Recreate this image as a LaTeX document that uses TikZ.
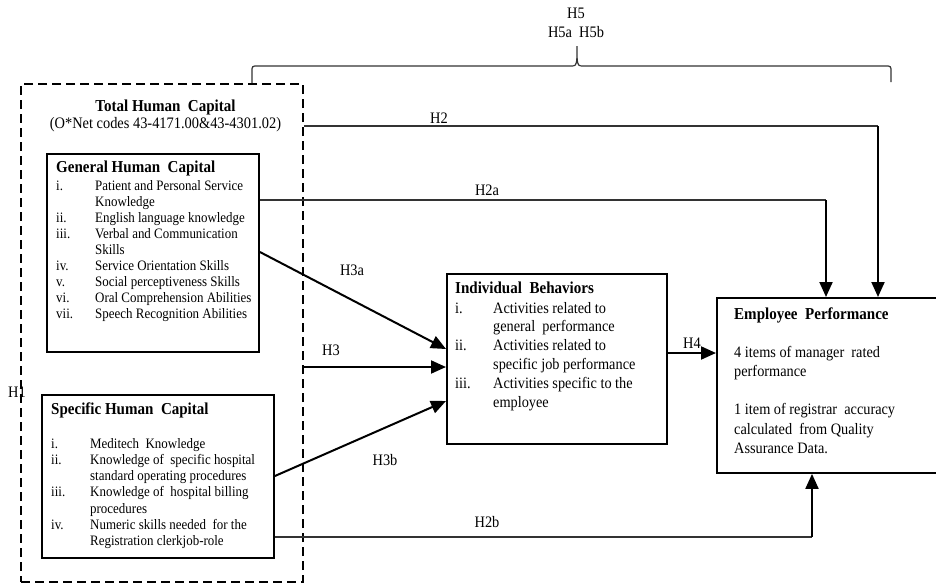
\documentclass[tikz,border=0pt]{standalone}
\usepackage{fontspec}
\setmainfont{Liberation Serif}[FakeStretch=0.9]
\usetikzlibrary{arrows.meta}
\begin{document}
\begin{tikzpicture}[x=1pt,y=-1pt,
  box/.style={draw=black, line width=1.9pt, rectangle, inner sep=0pt, anchor=north west},
  dashbox/.style={draw=black, line width=2pt, dash pattern=on 9pt off 5pt, rectangle, inner sep=0pt, anchor=north west},
  ttl/.style={font=\fontsize{16.7}{20}\selectfont\bfseries, anchor=base west, inner sep=0pt},
  lst/.style={anchor=base west, inner sep=0pt},
  lbl/.style={font=\fontsize{16}{19}\selectfont, anchor=base, inner sep=0pt},
  arr/.style={line width=2pt, draw=black, -{Triangle[length=15pt,width=13pt]}},
  thinln/.style={line width=1.2pt, draw=black!80},
  bracel/.style={line width=1.2pt, draw=black!80},
]
\useasboundingbox (0,0) rectangle (936,584);

% boxes
\node[dashbox, minimum width=282pt, minimum height=498pt] (dash) at (20,83) {};
\node[box, minimum width=212pt, minimum height=198pt] (ghc) at (46,153) {};
\node[box, minimum width=232pt, minimum height=163pt] (shc) at (41,394) {};
\node[box, minimum width=220pt, minimum height=170pt] (ib) at (446,273) {};
\node[box, minimum width=240pt, minimum height=175pt] (ep) at (716,297) {};

% Total human capital
\node[font=\fontsize{16.7}{20}\selectfont\bfseries, anchor=base, inner sep=0pt] (thct) at (165.5,111) {Total Human\ \ Capital};
\node[font=\fontsize{16}{19}\selectfont, anchor=base, inner sep=0pt] (thcs) at (165.5,128) {(O*Net codes 43-4171.00\&43-4301.02)};

% General human capital
\node[ttl] (ghct) at (56,172) {General Human\ \ Capital};
\node[lst, font=\fontsize{14.4}{16}\selectfont] (ghcl) at (56,190) {\begin{tabular}[t]{@{}p{39pt}@{}l@{}}
i. & Patient and Personal Service\\
   & Knowledge\\
ii. & English language knowledge\\
iii. & Verbal and Communication\\
   & Skills\\
iv. & Service Orientation Skills\\
v. & Social perceptiveness Skills\\
vi. & Oral Comprehension Abilities\\
vii. & Speech Recognition Abilities
\end{tabular}};

% Specific human capital
\node[ttl] (shct) at (51,414) {Specific Human\ \ Capital};
\node[lst, font=\fontsize{14.4}{16.3}\selectfont] (shcl) at (51,448) {\begin{tabular}[t]{@{}p{39pt}@{}l@{}}
i. & Meditech\ \ Knowledge\\
ii. & Knowledge of\ \ specific hospital\\
   & standard operating procedures\\
iii. & Knowledge of\ \ hospital billing\\
   & procedures\\
iv. & Numeric skills needed\ \ for the\\
   & Registration clerkjob-role
\end{tabular}};

% Individual behaviors
\node[ttl] (ibt) at (455,293) {Individual\ \ Behaviors};
\node[lst, font=\fontsize{15.9}{18.8}\selectfont] (ibl) at (455,313) {\begin{tabular}[t]{@{}p{38pt}@{}l@{}}
i. & Activities related to\\
   & general\ \ performance\\
ii. & Activities related to\\
   & specific job performance\\
iii. & Activities specific to the\\
   & employee
\end{tabular}};

% Employee performance
\node[ttl] (ept) at (734,319) {Employee\ \ Performance};
\node[lst, font=\fontsize{15.9}{19.3}\selectfont] (epl) at (734,357) {\begin{tabular}[t]{@{}l@{}}
4 items of manager\ \ rated\\
performance\\
\\
1 item of registrar\ \ accuracy\\
calculated\ \ from Quality\\
Assurance Data.
\end{tabular}};

% H5 brace
\draw[bracel] (dash.north -| 252,0) -- (252,72) .. controls (252,66) .. (258,66) -- (570,66) .. controls (576,66) .. (577,58) -- (577,46);
\draw[bracel] (577,58) .. controls (578,66) .. (584,66) -- (885,66) .. controls (891,66) .. (891,72) -- (891,82);

% connectors
\coordinate (h2c) at (878,126);
\draw[thinln] (dash.east |- 0,126) -- (h2c);
\draw[arr] (h2c) -- (h2c |- ep.north);

\coordinate (h2ac) at (826,200);
\draw[thinln] (ghc.east |- 0,200) -- (h2ac);
\draw[arr] (h2ac) -- (h2ac |- ep.north);

\coordinate (h2bc) at (812,537);
\draw[thinln] (shc.east |- 0,537) -- (h2bc);
\draw[arr] (h2bc) -- (h2bc |- ep.south);

\draw[arr] (ghc.east |- 0,252) -- (ib.west |- 0,349);
\draw[arr] (dash.east |- 0,367) -- (ib.west |- 0,367);
\draw[arr] (shc.east |- 0,476) -- (ib.west |- 0,401);
\draw[arr] (ib.east |- 0,353) -- (ep.west |- 0,353);

% labels
\node[lbl] (lh1) at (17,397) {H1};
\node[lbl] (lh2) at (439,123) {H2};
\node[lbl] (lh2a) at (487,195) {H2a};
\node[lbl] (lh3a) at (352,275) {H3a};
\node[lbl] (lh3) at (331,355) {H3};
\node[lbl] (lh3b) at (385,465) {H3b};
\node[lbl] (lh2b) at (487,527) {H2b};
\node[lbl] (lh4) at (692,348) {H4};
\node[lbl] (lh5) at (576,18) {H5};
\node[lbl] (lh5ab) at (576,37) {H5a\ \ H5b};
\end{tikzpicture}
\end{document}
